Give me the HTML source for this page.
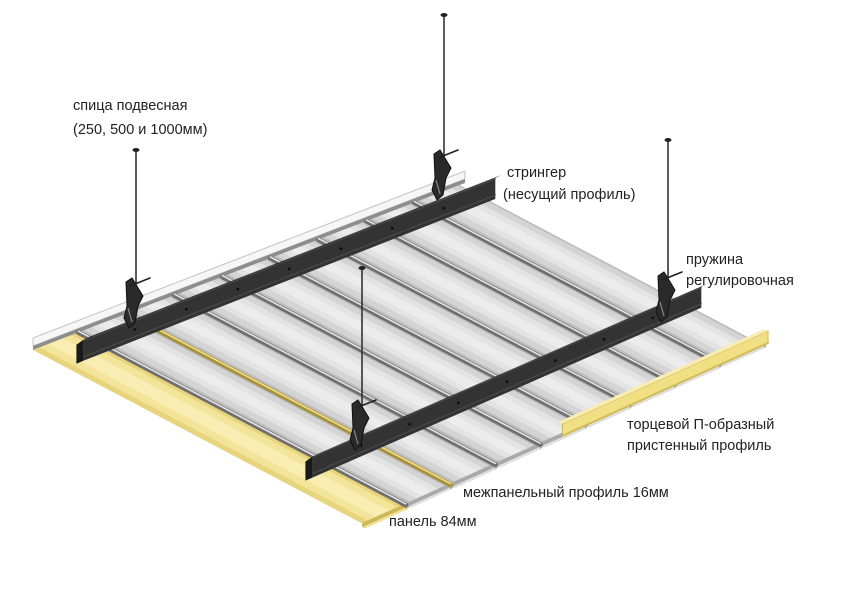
<!DOCTYPE html>
<html><head><meta charset="utf-8"><style>
html,body{margin:0;padding:0;background:#fff;}
svg{display:block;}
text{font-family:"Liberation Sans",Arial,sans-serif;font-size:14.5px;fill:#222;}
</style></head><body>
<svg id="s" width="850" height="600" viewBox="0 0 850 600" xmlns="http://www.w3.org/2000/svg">
<g id="g"></g>
<text x="73" y="110">спица подвесная</text>
<text x="73" y="134">(250, 500 и 1000мм)</text>
<text x="507" y="177">стрингер</text>
<text x="503" y="199">(несущий профиль)</text>
<text x="686" y="264">пружина</text>
<text x="686" y="285">регулировочная</text>
<text x="627" y="429">торцевой П-образный</text>
<text x="627" y="450">пристенный профиль</text>
<text x="463" y="497">межпанельный профиль 16мм</text>
<text x="389" y="526">панель 84мм</text>
</svg>
<script>
var A=[33,350],B=[465,183],C=[768,343],D=[365,525];
function P(u,v){return [A[0]*(1-u)*(1-v)+B[0]*u*(1-v)+D[0]*(1-u)*v+C[0]*u*v,
A[1]*(1-u)*(1-v)+B[1]*u*(1-v)+D[1]*(1-u)*v+C[1]*u*v];}
var h='';
function poly(pts,fill,extra){h+='<polygon points="'+pts.map(function(p){return p[0].toFixed(1)+','+p[1].toFixed(1)}).join(' ')+'" fill="'+fill+'" '+(extra||'')+'/>';}
function line(p,q,st,w){h+='<line x1="'+p[0].toFixed(1)+'" y1="'+p[1].toFixed(1)+'" x2="'+q[0].toFixed(1)+'" y2="'+q[1].toFixed(1)+'" stroke="'+st+'" stroke-width="'+w+'" stroke-linecap="round"/>';}
function up(p,d){return [p[0],p[1]-d];}
// wall profile (white) along back edge
poly([up(A,4),up(B,4),up(B,12),up(A,12)],'#f6f6f6','stroke="#c4c4c4" stroke-width="1"');
poly([A,B,up(B,4),up(A,4)],'#8d8d8d');
var N=9;
function strip(u0,u1,col){poly([P(u0,0),P(u1,0),P(u1,1),P(u0,1)],col);}
for(var i=0;i<N;i++){
 var u0=i/N,u1=(i+1)/N-0.012,w=u1-u0;
 var yel=(i==0);
 if(yel){
  strip(u0,u1,'#e7d47c');
  strip(u0+w*0.15,u1-w*0.1,'#f3e49a');
  strip(u0+w*0.35,u1-w*0.3,'#f8eeb4');
 } else {
  strip(u0,u1,'#bdbdbd');
  strip(u0+w*0.08,u1-w*0.05,'#d4d4d4');
  strip(u0+w*0.25,u1-w*0.2,'#e3e3e3');
  strip(u0+w*0.4,u1-w*0.35,'#ececec');
 }
 // front lip
 line(P(u0,1),P(u1,1),yel?'#cdb858':'#a9a9a9',6);
 line(up(P(u0,1),-2),up(P(u1,1),-2),yel?'#f3e49a':'#e2e2e2',2);
}
// interpanel rods
for(var i=1;i<N;i++){
 var u=i/N-0.006;
 var yel=(i==2);
 line(P(u,0),P(u,0.995),yel?'#a8913a':'#6f6f6f',5);
 line(up(P(u,0),1.2),up(P(u,0.995),1.2),yel?'#f0df90':'#e4e4e4',1.6);
}
// right yellow end profile
var e0=P(0.49,1),e1=C;
poly([e0,e1,up(e1,12),up(e0,12)],'#f1df84','stroke="#c9b455" stroke-width="1"');
poly([up(e0,12),up(e1,12),[e1[0]-4,e1[1]-14],[e0[0]-4,e0[1]-14]],'#f8ecb0');
line(e0,e1,'#d1bc5c',2);
// stringers
function stringer(v,ua,ub){
 var p=P(ua,v),q=P(ub,v),H=21;
 poly([p,q,up(q,H),up(p,H)],'#333');
 poly([up(p,H),up(q,H),[q[0]+6,q[1]-H-3],[p[0]+6,p[1]-H-3]],'#222');
 line(up(p,4),up(q,4),'#4a4a4a',1.2);
 line(up(p,H-1),up(q,H-1),'#474747',1);
 poly([p,up(p,H),[p[0]-7,p[1]-H+5],[p[0]-7,p[1]+3]],'#1a1a1a');
 for(var k=1;k<8;k++){var m=P(ua+(ub-ua)*k/8,v);h+='<circle cx="'+m[0].toFixed(1)+'" cy="'+(m[1]-11).toFixed(1)+'" r="1.4" fill="#0d0d0d"/>';}
}
stringer(0.1,0.04,1.0);
stringer(0.78,0.05,1.0);
// hangers
function hanger(x,t,b){
 line([x,t],[x,b],'#333',1.6);
 h+='<ellipse cx="'+x+'" cy="'+t+'" rx="3.5" ry="2" fill="#222"/>';
 h+='<path d="M'+(x-10)+' '+(b-6)+' L'+(x-4)+' '+(b-10)+' L'+(x+7)+' '+(b+8)+' L'+(x+2)+' '+(b+18)+' L'+(x-1)+' '+(b+35)+' L'+(x-7)+' '+(b+40)+' L'+(x-12)+' '+(b+30)+' L'+(x-9)+' '+(b+18)+' Z" fill="#2a2a2a" stroke="#111" stroke-width="1"/>';
 h+='<path d="M'+(x-8)+' '+(b+20)+' L'+(x-4)+' '+(b+34)+'" stroke="#888" stroke-width="1.2" fill="none"/>';
 line([x-6,b-2],[x+14,b-10],'#222',1.6);
}
hanger(136,150,288);
hanger(444,15,160);
hanger(668,140,282);
hanger(362,268,410);
document.getElementById('g').innerHTML=h;
</script>
</body></html>
